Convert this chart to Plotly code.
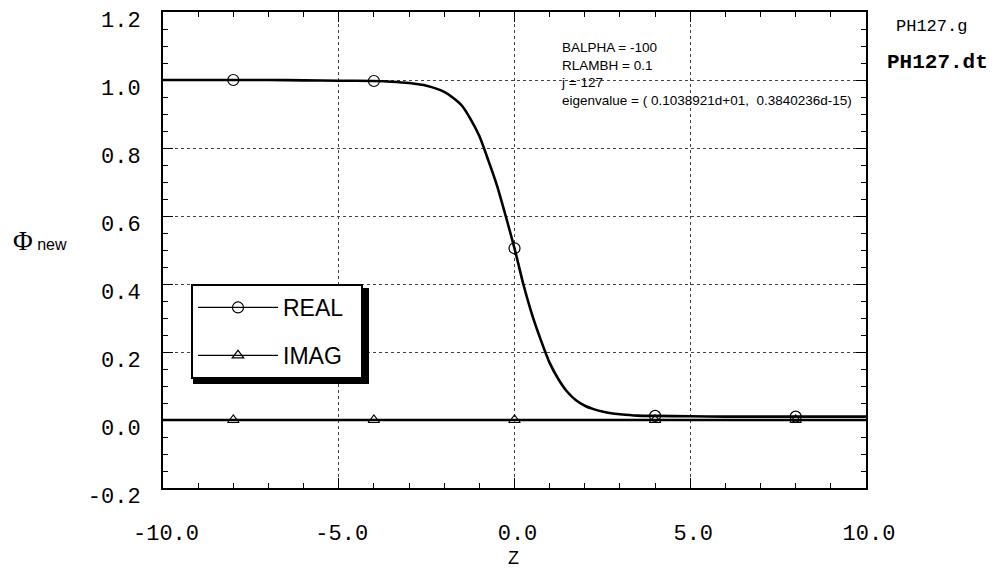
import plotly.graph_objects as go

# ---- data ----
z_curve = [-10, -9, -8, -7, -6, -5, -4, -3.5, -3, -2.5, -2, -1.75, -1.5, -1.25, -1,
           -0.75, -0.5, -0.25, 0, 0.25, 0.5, 0.75, 1, 1.25, 1.5, 1.75, 2, 2.25, 2.5,
           2.75, 3, 3.5, 4, 5, 6, 7, 8, 9, 10]
real_curve = [1.0, 1.0, 1.0, 1.0, 0.999, 0.998, 0.997, 0.995, 0.991, 0.983, 0.965,
              0.948, 0.925, 0.885, 0.835, 0.765, 0.69, 0.60, 0.505, 0.40, 0.31,
              0.235, 0.168, 0.12, 0.083, 0.058, 0.042, 0.032, 0.025, 0.02, 0.017,
              0.013, 0.012, 0.011, 0.01, 0.01, 0.01, 0.01, 0.01]
marker_z = [-8, -4, 0, 4, 8]
real_markers = [1.0, 0.997, 0.505, 0.012, 0.01]
imag_z = [-10, -8, -4, 0, 4, 8, 10]
imag_vals = [0, 0, 0, 0, 0, 0, 0]
imag_markers = [0, 0, 0, 0, 0]

x_tickvals = [-10, -5, 0, 5, 10]
x_ticktext = ["-10.0", "-5.0", "0.0", "5.0", "10.0"]
y_tickvals = [-0.2, 0.0, 0.2, 0.4, 0.6, 0.8, 1.0, 1.2]
y_ticktext = ["-0.2", "0.0", "0.2", "0.4", "0.6", "0.8", "1.0", "1.2"]
x_minor = [v for v in range(-9, 10) if v % 5 != 0]
y_minor = [round(-0.15 + 0.05 * i, 2) for i in range(28)]

info_lines = ["BALPHA = -100", "RLAMBH = 0.1", "j = 127",
              "eigenvalue = ( 0.1038921d+01,  0.3840236d-15)"]

fig = go.Figure()
fig.add_trace(go.Scatter(
    x=z_curve, y=real_curve, mode="lines", showlegend=False, hoverinfo="skip",
    line=dict(color="black", width=2.6, shape="spline", smoothing=0.6)))
fig.add_trace(go.Scatter(
    x=imag_z, y=imag_vals, mode="lines", showlegend=False, hoverinfo="skip",
    line=dict(color="black", width=2.4)))
fig.add_trace(go.Scatter(
    x=marker_z, y=real_markers, mode="markers", showlegend=False,
    marker=dict(symbol="circle-open", size=11, color="black",
                line=dict(width=1.2, color="black"))))
fig.add_trace(go.Scatter(
    x=marker_z, y=imag_markers, mode="markers", showlegend=False,
    marker=dict(symbol="triangle-up-open", size=10, color="black",
                line=dict(width=1.2, color="black"))))
# legend entries
pad = "\u00a0\u00a0"
fig.add_trace(go.Scatter(
    x=[None], y=[None], mode="lines+markers", name="REAL" + pad,
    line=dict(color="black", width=1.3),
    marker=dict(symbol="circle-open", size=11, color="black",
                line=dict(width=1.2, color="black")),
    legendgroup="a"))
fig.add_trace(go.Scatter(
    x=[None], y=[None], mode="lines+markers", name="IMAG" + pad,
    line=dict(color="black", width=1.3),
    marker=dict(symbol="triangle-up-open", size=10, color="black",
                line=dict(width=1.2, color="black")),
    legendgroup="b"))

L, R, T, B = 163, 132, 12, 80
W, H = 998, 568
pw = W - L - R
ph = H - T - B

def px(x):
    return (x - L) / pw

def py(y):
    return (H - B - y) / ph

tickfont = dict(family="Liberation Mono", size=22, color="black")
common = dict(showline=True, linecolor="black", linewidth=2, mirror="allticks",
              ticks="inside", ticklen=10, tickwidth=1, tickcolor="black",
              showgrid=True, gridcolor="#444", gridwidth=1, griddash="dot",
              zeroline=False, tickfont=tickfont, layer="above traces",
              automargin=False, ticklabeloverflow="allow")

fig.update_xaxes(range=[-10, 10], tickmode="array", tickvals=x_tickvals,
                 ticktext=x_ticktext, ticklabelstandoff=24, ticklabelshift=3,
                 minor=dict(tickmode="array", tickvals=x_minor, ticks="inside",
                            ticklen=5, tickcolor="black", tickwidth=1,
                            showgrid=False),
                 **common)
fig.update_yaxes(range=[-0.2, 1.2], tickmode="array", tickvals=y_tickvals,
                 ticktext=y_ticktext, ticklabelstandoff=16, ticklabelshift=7,
                 minor=dict(tickmode="array", tickvals=y_minor, ticks="inside",
                            ticklen=5, tickcolor="black", tickwidth=1,
                            showgrid=False),
                 **common)

annotations = [
    dict(x=px(559), y=py(38), xref="paper", yref="paper", xanchor="left",
         yanchor="top", align="left", showarrow=False,
         text="<br>".join(info_lines),
         font=dict(family="Liberation Sans", size=13.5, color="black")),
    dict(x=px(931), y=py(26), xref="paper", yref="paper", xanchor="center",
         yanchor="middle", showarrow=False, text="PH127.g",
         font=dict(family="Liberation Mono", size=17, color="black")),
    dict(x=px(937), y=py(63), xref="paper", yref="paper", xanchor="center",
         yanchor="middle", showarrow=False, text="<b>PH127.dt</b>",
         font=dict(family="Liberation Mono", size=21, color="black")),
    dict(x=px(40), y=py(241), xref="paper", yref="paper", xanchor="center",
         yanchor="middle", showarrow=False,
         text="<span style='font-family:Liberation Serif;font-size:27px'>Φ</span> new",
         font=dict(family="Liberation Sans", size=16, color="black")),
    dict(x=px(513), y=py(558), xref="paper", yref="paper", xanchor="center",
         yanchor="middle", showarrow=False, text="Z",
         font=dict(family="Liberation Sans", size=18, color="black")),
]

shapes = [
    dict(type="rect", xref="paper", yref="paper", x0=px(193), x1=px(369),
         y0=py(384), y1=py(288), fillcolor="black", line=dict(width=0),
         layer="above"),
]

fig.update_layout(
    width=W, height=H,
    margin=dict(l=L, r=R, t=T, b=B, pad=0, autoexpand=False),
    paper_bgcolor="white", plot_bgcolor="white",
    showlegend=True,
    legend=dict(x=px(191), y=py(284), xanchor="left", yanchor="top",
                bgcolor="white", bordercolor="black", borderwidth=2,
                font=dict(family="Liberation Sans", size=23, color="black"),
                itemwidth=80, tracegroupgap=15,
                traceorder="grouped"),
    annotations=annotations,
    shapes=shapes,
)

fig.write_html("out.html")
